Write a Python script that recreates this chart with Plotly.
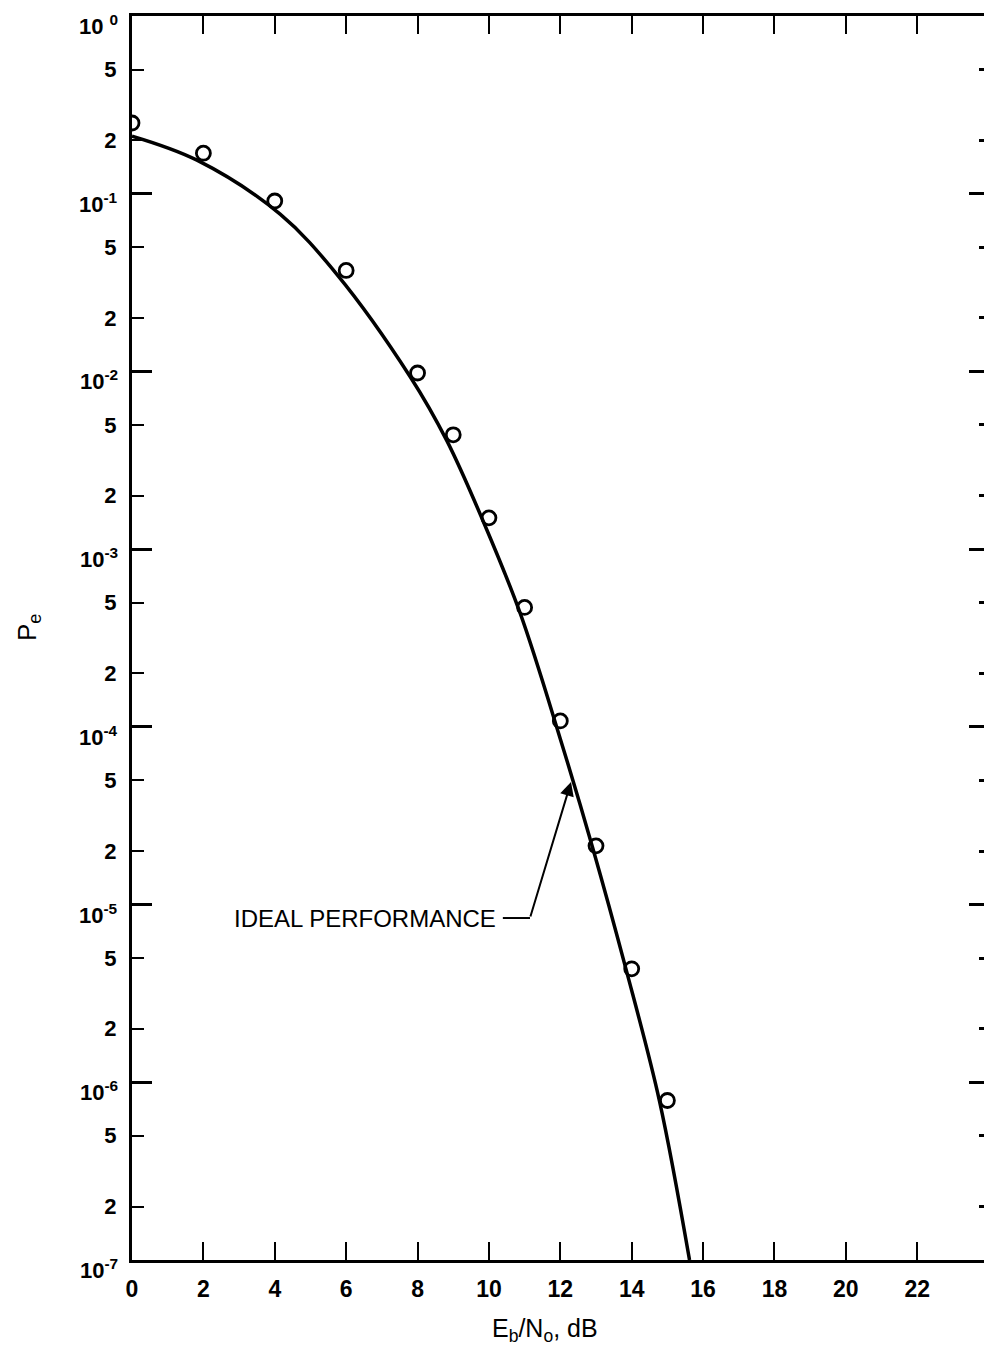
import math
import plotly.graph_objects as go

# ---- data ----
snr_points = [0, 2, 4, 6, 8, 9, 10, 11, 12, 13, 14, 15]
pe_points = [0.25, 0.169, 0.091, 0.037, 0.0098, 0.0044, 0.0015, 0.00047,
             0.000108, 2.14e-5, 4.35e-6, 7.9e-7]

snr_curve = [0, 1.82, 4.15, 5.74, 7.79, 8.82, 9.83, 10.87, 12.0, 12.9,
             13.84, 14.78, 15.62]
pe_curve = [0.211, 0.1545, 0.0767, 0.0352, 0.00937, 0.00408, 0.00145,
            4.39e-4, 8.55e-5, 2.11e-5, 4.33e-6, 7.82e-7, 1.0e-7]

x_ticks = [0, 2, 4, 6, 8, 10, 12, 14, 16, 18, 20, 22]
x_tick_labels = [str(v) for v in x_ticks]

y_decades = [1e-7, 1e-6, 1e-5, 1e-4, 1e-3, 1e-2, 1e-1, 1e0]
y_decade_exps = ["-7", "-6", "-5", "-4", "-3", "-2", "-1", "0"]
y_minor = [m * 10 ** e for e in range(-7, 0) for m in (2, 5)]
y_minor_labels = ["2", "5"] * 7

annotation_label = "IDEAL PERFORMANCE"
arrow_tip = (12.3, 4.9e-5)
arrow_tail = (11.15, 8.4e-6)
leader_start = 10.39

FONT = "Liberation Sans, Arial, sans-serif"

fig = go.Figure()

fig.add_trace(go.Scatter(
    x=snr_curve, y=pe_curve, mode="lines",
    line=dict(color="black", width=3.5, shape="spline", smoothing=1.0),
    showlegend=False, hoverinfo="skip"))

fig.add_trace(go.Scatter(
    x=snr_points, y=pe_points, mode="markers",
    marker=dict(symbol="circle-open", size=14, color="black",
                line=dict(width=2.8, color="black")),
    showlegend=False, hoverinfo="skip"))

# leader line of the label
fig.add_trace(go.Scatter(
    x=[leader_start, arrow_tail[0]], y=[arrow_tail[1], arrow_tail[1]],
    mode="lines", line=dict(color="black", width=2),
    showlegend=False, hoverinfo="skip"))

# invisible traces to activate overlay axes
fig.add_trace(go.Scatter(x=[None], y=[None], yaxis="y2", showlegend=False,
                         hoverinfo="skip"))
fig.add_trace(go.Scatter(x=[None], y=[None], yaxis="y3", showlegend=False,
                         hoverinfo="skip"))

all_y_vals = y_decades + y_minor
all_y_text = [""] * len(y_decades) + y_minor_labels

fig.update_layout(
    width=984, height=1355,
    margin=dict(l=132, r=0, t=16, b=95),
    paper_bgcolor="white", plot_bgcolor="white",
    font=dict(family=FONT, color="black"),
    xaxis=dict(
        range=[0, 23.87], showgrid=False, zeroline=False,
        showline=True, linewidth=3, linecolor="black", mirror="ticks",
        ticks="inside", ticklen=18, tickwidth=2, tickcolor="black",
        tickvals=x_ticks, ticktext=x_tick_labels,
        tickfont=dict(family=FONT, size=23, weight="bold"),
        ticklabelstandoff=6,
    ),
    yaxis=dict(
        type="log", range=[-7, 0], showgrid=False, zeroline=False,
        showline=True, linewidth=3, linecolor="black",
        ticks="inside", ticklen=12, tickwidth=2, tickcolor="black",
        tickvals=all_y_vals, ticktext=all_y_text,
        tickfont=dict(family=FONT, size=22, weight="bold"),
        ticklabelstandoff=8,
    ),
    yaxis2=dict(
        type="log", range=[-7, 0], overlaying="y", side="right", anchor="x",
        showgrid=False, zeroline=False, showline=False,
        ticks="inside", ticklen=15, tickwidth=2.5, tickcolor="black",
        tickvals=y_decades, showticklabels=False,
        minor=dict(tickvals=y_minor, ticks="inside", ticklen=5,
                   tickwidth=2.5, tickcolor="black"),
    ),
    yaxis3=dict(
        type="log", range=[-7, 0], overlaying="y", side="left", anchor="x",
        showgrid=False, zeroline=False, showline=False,
        ticks="inside", ticklen=20, tickwidth=2.5, tickcolor="black",
        tickvals=y_decades, showticklabels=False,
    ),
)

# decade labels (10 with superscript exponent)
for val, ex in zip(y_decades, y_decade_exps):
    sep = " " if ex == "0" else ""
    fig.add_annotation(
        x=0, y=math.log10(val), xref="paper", yref="y",
        text=f"10{sep}<sup style=\"font-size:19px\">{ex}</sup>",
        showarrow=False, xanchor="right", yanchor="middle",
        xshift=-12, yshift=-9,
        font=dict(family=FONT, size=22, weight="bold", color="black"))

fig.add_annotation(
    x=arrow_tip[0], y=math.log10(arrow_tip[1]),
    ax=arrow_tail[0], ay=math.log10(arrow_tail[1]),
    xref="x", yref="y", axref="x", ayref="y",
    text="", showarrow=True, arrowhead=2, arrowsize=1.4, arrowwidth=2,
    arrowcolor="black", standoff=0, startstandoff=0)

fig.add_annotation(
    x=leader_start - 0.15, y=math.log10(arrow_tail[1]), xref="x", yref="y",
    text=annotation_label, showarrow=False, xanchor="right", yanchor="middle",
    font=dict(family=FONT, size=24, color="black"))

# axis titles
fig.add_annotation(
    x=0.485, y=-0.056, xref="paper", yref="paper",
    text="E<sub>b</sub>/N<sub>o</sub>, dB", showarrow=False,
    xanchor="center", yanchor="middle",
    font=dict(family=FONT, size=25, color="black"))
fig.add_annotation(
    x=-0.122, y=0.508, xref="paper", yref="paper",
    text="P<sub>e</sub>", showarrow=False, textangle=-90,
    xanchor="center", yanchor="middle",
    font=dict(family=FONT, size=26, color="black"))

fig.write_html("out.html")
